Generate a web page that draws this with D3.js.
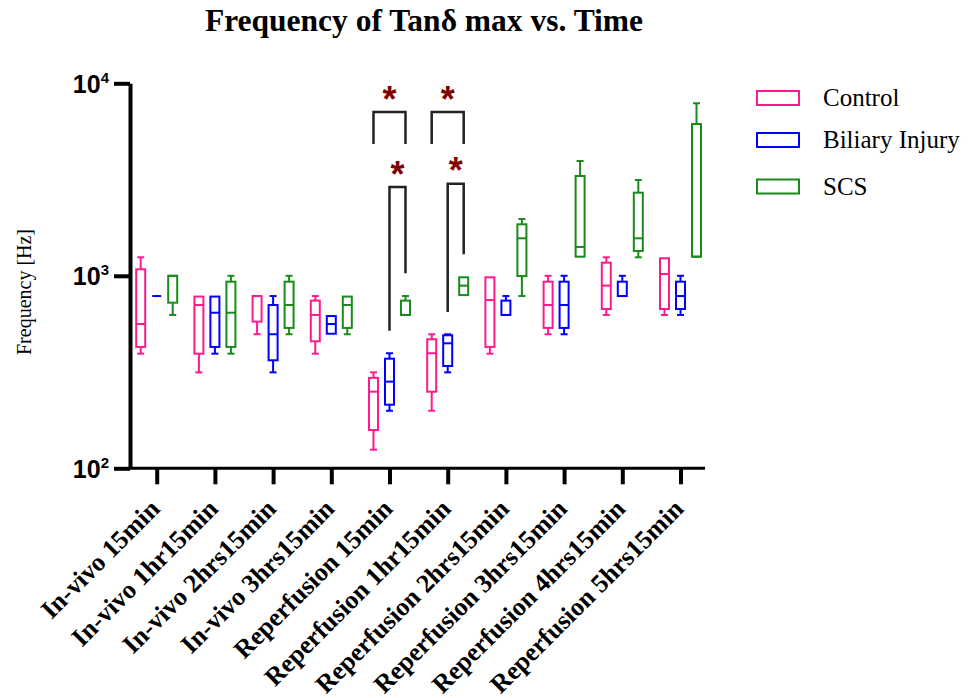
<!DOCTYPE html>
<html>
<meta charset="utf-8">
<head>
    <script src="https://d3js.org/d3.v7.min.js"></script>
    <style>
        body { margin: 0; background: #fff; }
    </style>
</head>
<body>
<div id="chart"></div>
<script>

// time points on the x axis
var categories = ["In-vivo 15min", "In-vivo 1hr15min", "In-vivo 2hrs15min", "In-vivo 3hrs15min",
    "Reperfusion 15min", "Reperfusion 1hr15min", "Reperfusion 2hrs15min",
    "Reperfusion 3hrs15min", "Reperfusion 4hrs15min", "Reperfusion 5hrs15min"];

// [min, q1, median, q3, max] per time point, Hz
var control = [
    [394, 427, 562, 1081, 1248],
    [315, 394, 705, 780, 780],
    [497, 578, 785, 785, 785],
    [394, 457, 626, 743, 785],
    [125, 158, 250, 295, 315],
    [199, 250, 396, 468, 497],
    [394, 427, 748, 982, 982],
    [497, 536, 705, 932, 1000],
    [626, 672, 889, 1170, 1248],
    [626, 672, 1022, 1233, 1233]
];
var biliary = [
    [785, 785, 785, 785, 785],
    [394, 427, 643, 780, 780],
    [315, 364, 497, 705, 785],
    [500, 500, 562, 618, 618],
    [199, 214, 282, 371, 396],
    [315, 340, 446, 491, 497],
    [626, 626, 626, 743, 785],
    [497, 536, 705, 932, 1000],
    [785, 785, 785, 932, 1000],
    [626, 672, 785, 932, 1000]
];
var scs = [
    [626, 725, 1000, 1000, 1000],
    [394, 427, 643, 932, 1000],
    [497, 536, 705, 932, 1000],
    [497, 536, 705, 780, 780],
    [626, 626, 626, 743, 785],
    [794, 794, 889, 982, 982],
    [785, 997, 1566, 1852, 1972],
    [1257, 1257, 1412, 3300, 3948],
    [1248, 1346, 1566, 2703, 3147],
    [1257, 1257, 1257, 6146, 7874]
];

var seriesNames = ["Control", "Biliary Injury", "SCS"];
var seriesColors = ["#ff1a8c", "#0000ff", "#1a8a1a"];
var yTicks = [100, 1000, 10000];

// significance brackets: category index, series from/to, bracket top and leg ends (Hz), star height (Hz)
var brackets = [
    {cat: 4, from: 0, to: 2, top: 7096, legFrom: 4838, legTo: 4838, star: 9040},
    {cat: 4, from: 1, to: 2, top: 2893, legFrom: 518, legTo: 1030, star: 3690},
    {cat: 5, from: 0, to: 2, top: 7096, legFrom: 4838, legTo: 4838, star: 9040},
    {cat: 5, from: 1, to: 2, top: 3010, legFrom: 649, legTo: 1294, star: 3840}
];

var serif = "'Liberation Serif', 'Times New Roman', 'DejaVu Serif', serif";
var sans = "'Liberation Sans', Arial, sans-serif";

var W = 968, H = 698;
var svg = d3.select("#chart").append("svg")
    .attr("width", W).attr("height", H);

var x = d3.scalePoint().domain(categories).range([156.7, 680.5]);
var y = d3.scaleLog().domain([100, 10000]).range([468.3, 83.3]);
var offsets = [-16, 0, 16];
var boxW = 9, capW = 7;

// title
svg.append("text")
    .attr("x", 424).attr("y", 31)
    .attr("text-anchor", "middle")
    .style("font-family", serif)
    .style("font-weight", "bold")
    .style("font-size", "31.5px")
    .text("Frequency of Tan\u03b4 max vs. Time");

// y axis label
svg.append("text")
    .attr("transform", "translate(31,292) rotate(-90)")
    .attr("text-anchor", "middle")
    .style("font-family", serif)
    .style("font-size", "20px")
    .text("Frequency [Hz]");

// y axis
var yAxis = svg.append("g")
    .attr("transform", "translate(130,0)")
    .call(d3.axisLeft(y).tickValues(yTicks).tickSize(16).tickSizeOuter(0).tickFormat(""));
yAxis.select(".domain").attr("stroke-width", 4).attr("stroke", "#000");
yAxis.selectAll(".tick line").attr("stroke-width", 4).attr("stroke", "#000");
yAxis.selectAll(".tick").each(function(d) {
    var t = d3.select(this).append("text")
        .attr("x", -21).attr("y", 9)
        .attr("text-anchor", "end")
        .attr("fill", "#000")
        .style("font-family", sans)
        .style("font-weight", "bold")
        .style("font-size", "25px");
    t.append("tspan").text("10");
    t.append("tspan").attr("dy", -10).style("font-size", "15px").text(Math.round(Math.log10(d)));
});

// x axis
var xAxis = svg.append("g")
    .attr("transform", "translate(0,468.3)")
    .call(d3.axisBottom(x).tickSize(16).tickSizeOuter(0).tickFormat(""));
xAxis.select(".domain").remove();
xAxis.append("line")
    .attr("x1", 128).attr("x2", 705)
    .attr("stroke", "#000").attr("stroke-width", 3);
xAxis.selectAll(".tick line").attr("stroke-width", 4).attr("stroke", "#000");
xAxis.selectAll(".tick").append("text")
    .attr("transform", "translate(4,42) rotate(-45)")
    .attr("text-anchor", "end")
    .attr("fill", "#000")
    .style("font-family", serif)
    .style("font-weight", "bold")
    .style("font-size", "26px")
    .text(function(d) { return d; });

// box plots
var allSeries = [control, biliary, scs];
allSeries.forEach(function(series, s) {
    var col = seriesColors[s];
    var g = svg.append("g").attr("class", "series-" + s)
        .attr("stroke", col).attr("fill", "none").attr("stroke-width", 2);
    var boxes = g.selectAll("g.box")
        .data(series.map(function(v, i) { return {cat: categories[i], v: v}; }))
        .enter().append("g").attr("class", "box")
        .attr("transform", function(d) { return "translate(" + (x(d.cat) + offsets[s]) + ",0)"; });

    // upper whisker
    boxes.filter(function(d) { return d.v[4] > d.v[3]; })
        .each(function(d) {
            var b = d3.select(this);
            b.append("line").attr("x1", 0).attr("x2", 0).attr("y1", y(d.v[4])).attr("y2", y(d.v[3]));
            b.append("line").attr("x1", -capW / 2).attr("x2", capW / 2).attr("y1", y(d.v[4])).attr("y2", y(d.v[4]));
        });
    // lower whisker
    boxes.filter(function(d) { return d.v[0] < d.v[1]; })
        .each(function(d) {
            var b = d3.select(this);
            b.append("line").attr("x1", 0).attr("x2", 0).attr("y1", y(d.v[1])).attr("y2", y(d.v[0]));
            b.append("line").attr("x1", -capW / 2).attr("x2", capW / 2).attr("y1", y(d.v[0])).attr("y2", y(d.v[0]));
        });
    boxes.append("rect")
        .attr("x", -boxW / 2)
        .attr("width", boxW)
        .attr("y", function(d) { return y(d.v[3]); })
        .attr("height", function(d) { return y(d.v[1]) - y(d.v[3]); });
    boxes.append("line")
        .attr("x1", -boxW / 2).attr("x2", boxW / 2)
        .attr("y1", function(d) { return y(d.v[2]); })
        .attr("y2", function(d) { return y(d.v[2]); });
});

// significance brackets
var bg = svg.append("g").attr("fill", "none").attr("stroke", "#222").attr("stroke-width", 2.5);
brackets.forEach(function(b) {
    var x1 = x(categories[b.cat]) + offsets[b.from];
    var x2 = x(categories[b.cat]) + offsets[b.to];
    bg.append("path")
        .attr("d", "M" + x1 + "," + y(b.legFrom) + "V" + y(b.top) + "H" + x2 + "V" + y(b.legTo));
    svg.append("text")
        .attr("x", (x1 + x2) / 2)
        .attr("y", y(b.star) + 20)
        .attr("text-anchor", "middle")
        .attr("fill", "#800000")
        .style("font-family", sans)
        .style("font-weight", "bold")
        .style("font-size", "36px")
        .text("*");
});

// legend
var legend = svg.append("g").attr("transform", "translate(757,0)");
var legendY = [98, 140, 186.5];
seriesNames.forEach(function(name, i) {
    legend.append("rect")
        .attr("x", 0).attr("y", legendY[i] - 7)
        .attr("width", 42).attr("height", 14)
        .attr("fill", "none").attr("stroke", seriesColors[i]).attr("stroke-width", 2);
    legend.append("text")
        .attr("x", 66).attr("y", legendY[i] + 8)
        .style("font-family", serif)
        .style("font-size", "25px")
        .text(name);
});

</script>
</body>
</html>
